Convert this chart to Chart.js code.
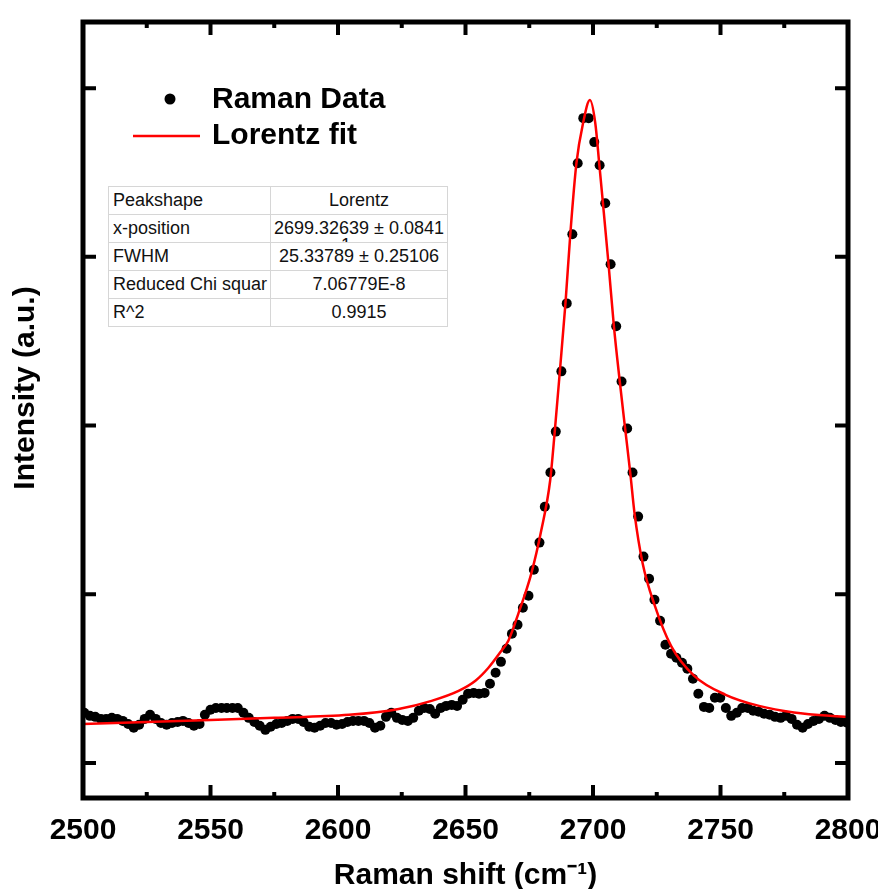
<!DOCTYPE html>
<html>
<head>
<meta charset="utf-8">
<script src="https://cdn.jsdelivr.net/npm/chart.js@4.4.1/dist/chart.umd.min.js"></script>
<style>
  body { margin: 0; background: #fff; }
  #wrap { position: relative; width: 878px; height: 889px; }
  #fitTable {
    position: absolute; left: 108px; top: 186px;
    border-collapse: collapse; border: 1px solid #7f7f7f;
    font: 18px "Liberation Sans", Arial, sans-serif; color: #111; background: #fff;
  }
  #fitTable td { border: 1px solid #d6d6d6; padding: 0; }
  #fitTable td div { height: 27px; line-height: 27px; overflow: hidden; position: relative; white-space: nowrap; }
  #fitTable td.name div { width: 157px; padding-left: 4px; }
  #fitTable td.val div { width: 176px; text-align: center; }
  #fitTable .spill { position: absolute; left: 70px; top: 21px; line-height: 18px; }
</style>
</head>
<body>
<div id="wrap">
  <canvas id="myChartCanvas" width="878" height="889"></canvas>
  <table id="fitTable"></table>
</div>
<script>
// Raman data points (cm-1, a.u.)
const ramanShift = [
  2500.5, 2502.7, 2504.8, 2507.0, 2509.1, 2511.3, 2513.4, 2515.6, 2517.7, 2519.9,
  2522.0, 2524.2, 2526.3, 2528.5, 2530.6, 2532.8, 2534.9, 2537.1, 2539.2, 2541.4,
  2543.5, 2545.7, 2547.8, 2550.0, 2552.1, 2554.3, 2556.4, 2558.6, 2560.7, 2562.9,
  2565.0, 2567.2, 2569.3, 2571.5, 2573.6, 2575.8, 2577.9, 2580.1, 2582.2, 2584.4,
  2586.5, 2588.7, 2590.8, 2593.0, 2595.1, 2597.3, 2599.4, 2601.6, 2603.7, 2605.9,
  2608.0, 2610.2, 2612.3, 2614.5, 2616.6, 2618.8, 2620.9, 2623.1, 2625.2, 2627.4,
  2629.5, 2631.7, 2633.8, 2636.0, 2638.1, 2640.3, 2642.4, 2644.6, 2646.7, 2648.9,
  2651.0, 2653.2, 2655.3, 2657.5, 2659.6, 2661.8, 2663.9, 2666.1, 2668.2, 2670.4,
  2672.5, 2674.7, 2676.8, 2679.0, 2681.1, 2683.3, 2685.4, 2687.6, 2689.7, 2691.9,
  2694.0, 2696.2, 2698.3, 2700.5, 2702.6, 2704.8, 2706.9, 2709.1, 2711.2, 2713.4,
  2715.5, 2717.7, 2719.8, 2722.0, 2724.1, 2726.3, 2728.4, 2730.6, 2732.7, 2734.9,
  2737.0, 2739.2, 2741.3, 2743.5, 2745.6, 2747.8, 2749.9, 2752.1, 2754.2, 2756.4,
  2758.5, 2760.7, 2762.8, 2765.0, 2767.1, 2769.3, 2771.4, 2773.6, 2775.7, 2777.9,
  2780.0, 2782.2, 2784.3, 2786.5, 2788.6, 2790.8, 2792.9, 2795.1, 2797.2, 2799.4
];
const ramanIntensity = [
  297, 279, 273, 261, 261, 267, 261, 249, 231, 208,
  226, 261, 285, 261, 237, 226, 237, 243, 249, 237,
  220, 231, 285, 315, 326, 326, 326, 326, 326, 297,
  267, 243, 220, 196, 214, 231, 237, 249, 261, 261,
  243, 214, 208, 220, 237, 237, 226, 231, 243, 249,
  249, 249, 237, 208, 220, 273, 297, 267, 255, 249,
  267, 309, 326, 320, 291, 326, 338, 344, 338, 374,
  410, 415, 410, 415, 469, 534, 599, 677, 766, 819,
  920, 991, 1145, 1306, 1519, 1721, 1964, 2321, 2724, 3134,
  3555, 3822, 3822, 3680, 3543, 3318, 2956, 2588, 2261, 1982,
  1721, 1460, 1223, 1092, 967, 843, 700, 647, 623, 594,
  558, 499, 410, 332, 326, 386, 386, 326, 279, 297,
  326, 326, 309, 303, 291, 285, 273, 267, 279, 261,
  226, 208, 231, 249, 261, 279, 267, 255, 243, 240
];

// Lorentz fit curve
const fitShift = [
  2500, 2525, 2550, 2575, 2604.3, 2623.8, 2636.7, 2647.3, 2653.9, 2659.0,
  2664.1, 2666.8, 2670.7, 2675.8, 2679.7, 2683.2, 2685.0, 2687.0, 2689.2, 2691.1,
  2693.5, 2696.1, 2698.8, 2700.9, 2702.5, 2703.9, 2706.1, 2708.2, 2710.5, 2712.6,
  2714.6, 2716.3, 2719.5, 2724.1, 2730.6, 2739.7, 2752.0, 2765.1, 2778.8, 2800
];
const fitIntensity = [
  231, 243, 255, 267, 285, 320, 368, 427, 487, 564,
  665, 724, 884, 1122, 1377, 1674, 1964, 2321, 2724, 3134,
  3555, 3792, 3929, 3792, 3543, 3318, 2956, 2588, 2261, 1982,
  1721, 1478, 1181, 938, 694, 516, 404, 338, 299, 272
];

// Axis ticks
const xTicks = [2500, 2550, 2600, 2650, 2700, 2750, 2800];
const xMinorTicks = [2525, 2575, 2625, 2675, 2725, 2775];
const yTicks = [0, 1000, 2000, 3000, 4000];

const xTitle = 'Raman shift (cm\u207B\u00B9)';
const yTitle = 'Intensity (a.u.)';

// Fit result table
const tableLabels = ['Peakshape', 'x-position', 'FWHM', 'Reduced Chi squar', 'R^2'];
const tableValues = ['Lorentz', '2699.32639 \u00B1 0.0841', '25.33789 \u00B1 0.25106', '7.06779E-8', '0.9915'];

const fontFamily = '"Liberation Sans", Arial, Helvetica, sans-serif';
Chart.defaults.font.family = fontFamily;
Chart.defaults.color = '#000';

const toPoints = (xs, ys) => xs.map((x, i) => ({ x: x, y: ys[i] }));

// Box frame with inward ticks on all four sides
const frameTicks = {
  id: 'frameTicks',
  afterDatasetsDraw(chart) {
    const { ctx, chartArea: a, scales: { x, y } } = chart;
    ctx.save();
    ctx.strokeStyle = '#000';
    ctx.lineWidth = 4;
    ctx.beginPath();
    xTicks.forEach((v) => {
      const px = x.getPixelForValue(v);
      ctx.moveTo(px, a.bottom); ctx.lineTo(px, a.bottom - 13);
      ctx.moveTo(px, a.top); ctx.lineTo(px, a.top + 13);
    });
    xMinorTicks.forEach((v) => {
      const px = x.getPixelForValue(v);
      ctx.moveTo(px, a.bottom); ctx.lineTo(px, a.bottom - 6);
      ctx.moveTo(px, a.top); ctx.lineTo(px, a.top + 6);
    });
    yTicks.forEach((v) => {
      const py = y.getPixelForValue(v);
      ctx.moveTo(a.left, py); ctx.lineTo(a.left + 13, py);
      ctx.moveTo(a.right, py); ctx.lineTo(a.right - 13, py);
    });
    ctx.stroke();
    ctx.lineWidth = 5;
    ctx.strokeRect(a.left, a.top, a.right - a.left, a.bottom - a.top);
    ctx.restore();
  },
};

// Legend in the upper left and rotated y title
const legendAndTitle = {
  id: 'legendAndTitle',
  afterDraw(chart) {
    const ctx = chart.ctx;
    const [fit, raw] = chart.data.datasets;
    ctx.save();
    ctx.font = 'bold 30px ' + fontFamily;
    ctx.textBaseline = 'middle';
    ctx.fillStyle = '#000';

    ctx.beginPath();
    ctx.arc(170, 99, 5.5, 0, Math.PI * 2);
    ctx.fillStyle = raw.backgroundColor;
    ctx.fill();
    ctx.fillStyle = '#000';
    ctx.fillText(raw.label, 212, 100);

    ctx.strokeStyle = fit.borderColor;
    ctx.lineWidth = fit.borderWidth;
    ctx.beginPath();
    ctx.moveTo(133, 136); ctx.lineTo(200, 136);
    ctx.stroke();
    ctx.fillText(fit.label, 212, 136);

    ctx.translate(26, 388);
    ctx.rotate(-Math.PI / 2);
    ctx.textAlign = 'center';
    ctx.fillText(yTitle, 0, 0);
    ctx.restore();
  },
};

const config = {
  data: {
    datasets: [
      {
        type: 'line',
        label: 'Lorentz fit',
        data: toPoints(fitShift, fitIntensity),
        borderColor: '#ff0000',
        borderWidth: 2.5,
        pointRadius: 0,
        cubicInterpolationMode: 'monotone',
        order: 0,
      },
      {
        type: 'scatter',
        label: 'Raman Data',
        data: toPoints(ramanShift, ramanIntensity),
        backgroundColor: '#000',
        borderWidth: 0,
        pointRadius: 5,
        order: 1,
      },
    ],
  },
  options: {
    responsive: false,
    animation: false,
    events: [],
    layout: {
      padding: { left: 83, right: 30, top: 22, bottom: 0 },
    },
    plugins: {
      legend: { display: false },
      tooltip: { enabled: false },
    },
    scales: {
      x: {
        type: 'linear',
        min: 2500,
        max: 2800,
        afterBuildTicks: (scale) => { scale.ticks = xTicks.map((v) => ({ value: v })); },
        afterFit: (scale) => { scale.paddingLeft = 0; scale.paddingRight = 0; },
        grid: { display: false, drawTicks: false },
        border: { display: false },
        ticks: {
          padding: 16,
          maxRotation: 0,
          font: { size: 30, weight: 'bold', lineHeight: 1.1 },
          callback: (value) => String(value),
        },
        title: {
          display: true,
          text: xTitle,
          padding: { top: -4, bottom: -3 },
          font: { size: 30, weight: 'bold', lineHeight: 1.1 },
        },
      },
      y: {
        display: false,
        min: -208,
        max: 4392,
        afterBuildTicks: (scale) => { scale.ticks = yTicks.map((v) => ({ value: v })); },
      },
    },
  },
  plugins: [frameTicks, legendAndTitle],
};

new Chart(document.getElementById('myChartCanvas'), config);

// Build the fit parameter table
const table = document.getElementById('fitTable');
tableLabels.forEach((name, i) => {
  const row = table.insertRow();
  const c1 = row.insertCell();
  c1.className = 'name';
  c1.innerHTML = '<div>' + name + '</div>';
  const c2 = row.insertCell();
  c2.className = 'val';
  let inner = tableValues[i];
  // the x-position value wraps its last digit in the original
  if (i === 1) inner += '<span class="spill">1</span>';
  c2.innerHTML = '<div>' + inner + '</div>';
});
</script>
</body>
</html>
